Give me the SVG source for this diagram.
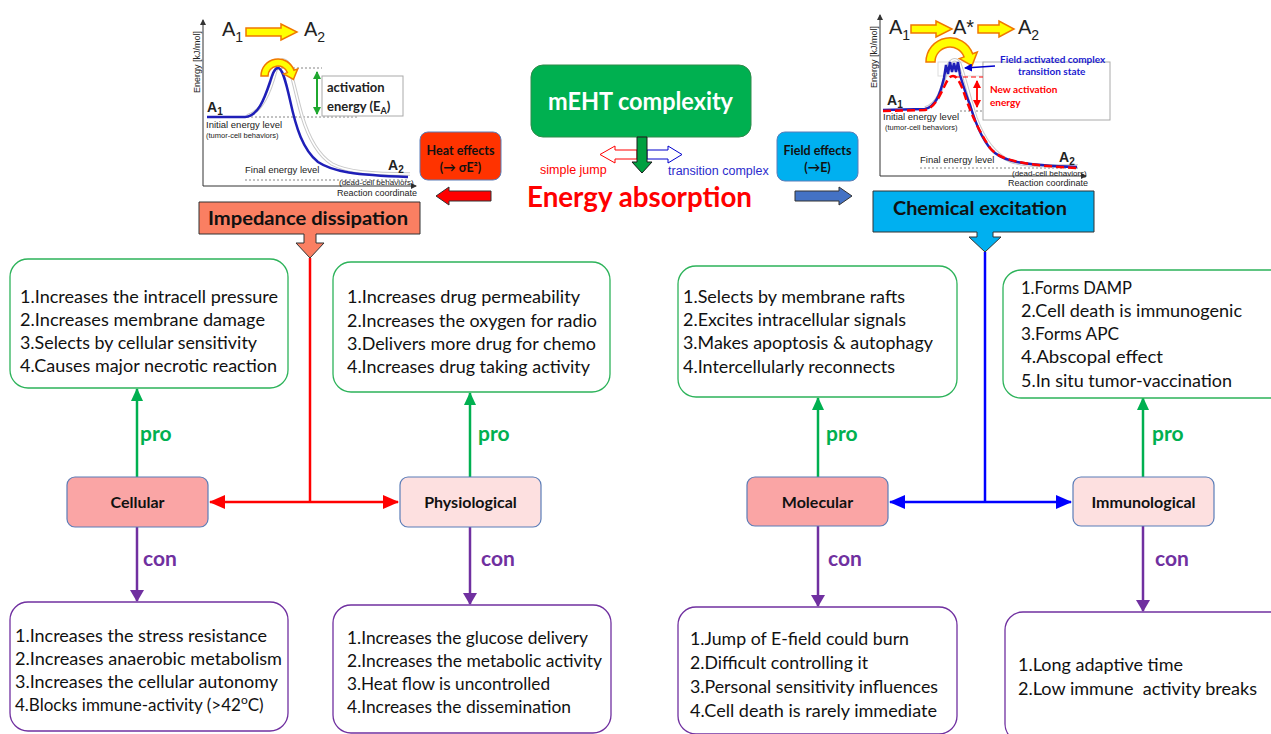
<svg xmlns="http://www.w3.org/2000/svg" width="1271" height="734" viewBox="0 0 1271 734">
<style>
.lst{font-family:Lato,"Liberation Sans",sans-serif;font-size:17px;fill:#111}
.lbl{font-family:Lato,"Liberation Sans",sans-serif;font-weight:bold}
.pro{font-family:Lato,"Liberation Sans",sans-serif;font-weight:bold;font-size:21px;fill:#00B050}
.con{font-family:Lato,"Liberation Sans",sans-serif;font-weight:bold;font-size:21px;fill:#7030A0}
.gbox{fill:#fff;stroke:#2DB35A;stroke-width:1.3}
.pbox{fill:#fff;stroke:#7030A0;stroke-width:1.3}
.nd{stroke:#5B7DB8;stroke-width:1.2}
.gt{font-family:"Liberation Sans",Arial,sans-serif;fill:#222}
.ax{stroke:#333;stroke-width:1;fill:none}
.dot{stroke:#666;stroke-width:0.8;stroke-dasharray:2,2;fill:none}
.yarr{fill:#FFFF00;stroke:#F07800;stroke-width:1.5}
.ghost{fill:none;stroke:#c9c9c9;stroke-width:3.5}
.ghost2{fill:none;stroke:#fff;stroke-width:1.5}
</style>
<defs>
<marker id="mg" markerWidth="13" markerHeight="12" refX="12" refY="6" orient="auto" markerUnits="userSpaceOnUse" viewBox="0 0 13 12"><path d="M0,0 L13,6 L0,12 Z" fill="#00B050"/></marker>
<marker id="mp" markerWidth="14" markerHeight="14" refX="11" refY="7" orient="auto" markerUnits="userSpaceOnUse" viewBox="0 0 14 14"><path d="M0,0 L12,7 L0,14 Z" fill="#7030A0"/></marker>
<marker id="mr" markerWidth="16" markerHeight="14" refX="15" refY="7" orient="auto-start-reverse" markerUnits="userSpaceOnUse" viewBox="0 0 16 14"><path d="M0,0 L16,7 L0,14 Z" fill="#FF0000"/></marker>
<marker id="mb" markerWidth="16" markerHeight="14" refX="15" refY="7" orient="auto-start-reverse" markerUnits="userSpaceOnUse" viewBox="0 0 16 14"><path d="M0,0 L16,7 L0,14 Z" fill="#0000FF"/></marker>
<marker id="sg" markerWidth="8" markerHeight="8" refX="7" refY="4" orient="auto-start-reverse" markerUnits="userSpaceOnUse" viewBox="0 0 8 8"><path d="M0,0 L8,4 L0,8 Z" fill="#1FA82F"/></marker>
<marker id="sr" markerWidth="8" markerHeight="8" refX="7" refY="4" orient="auto-start-reverse" markerUnits="userSpaceOnUse" viewBox="0 0 8 8"><path d="M0,0 L8,4 L0,8 Z" fill="#FF0000"/></marker>
<marker id="sb" markerWidth="8" markerHeight="8" refX="7" refY="4" orient="auto" markerUnits="userSpaceOnUse" viewBox="0 0 8 8"><path d="M0,0 L8,4 L0,8 Z" fill="#0000CC"/></marker>
<marker id="ax" markerWidth="6" markerHeight="6" refX="5" refY="3" orient="auto" markerUnits="userSpaceOnUse" viewBox="0 0 6 6"><path d="M0,0 L6,3 L0,6 Z" fill="#333"/></marker>
</defs>
<rect width="1271" height="734" fill="#fff"/>

<!-- Left energy graph -->
<g id="graph-left">
<line class="ax" x1="203" y1="186" x2="203" y2="20" marker-end="url(#ax)"/>
<line class="ax" x1="203" y1="186" x2="416" y2="186" marker-end="url(#ax)"/>
<text class="gt" font-size="9" transform="translate(200,93) rotate(-90)">Energy [kJ/mol]</text>
<text class="gt" font-size="9" x="337" y="196">Reaction coordinate</text>
<text class="gt" font-size="20" x="222" y="36">A<tspan font-size="14" dy="6">1</tspan></text>
<path class="yarr" d="M246,28 H281 V24 L297,32 L281,40 V36 H246 Z"/>
<text class="gt" font-size="20" x="304" y="36">A<tspan font-size="14" dy="6">2</tspan></text>
<line class="dot" x1="207" y1="117" x2="358" y2="117"/>
<line class="dot" x1="277" y1="68" x2="322" y2="68"/>
<line class="dot" x1="245" y1="180" x2="408" y2="180"/>
<path class="ghost" d="M247,116 C262,112 270,92 276,70 C279,60 283,58 287,62 C292,72 296,96 302,116 C308,136 318,155 332,164 C347,172 372,174 410,174"/>
<path class="ghost2" d="M247,116 C262,112 270,92 276,70 C279,60 283,58 287,62 C292,72 296,96 302,116 C308,136 318,155 332,164 C347,172 372,174 410,174"/>
<path d="M207,117 L245,117 C258,116 264,100 270,82 C273,72 275,68 278,68 C282,68 285,78 290,100 C296,128 303,150 318,162 C333,172 355,175 408,177" fill="none" stroke="#1F1FB8" stroke-width="2.5"/>
<path class="yarr" d="M261,76 A17,17 0 0 1 294,70.2 L297.7,68.9 L293.4,79.5 L283.7,73.9 L287.4,72.6 A10,10 0 0 0 268,76 Z"/>
<line x1="317" y1="72" x2="317" y2="114" stroke="#1FA82F" stroke-width="2" marker-start="url(#sg)" marker-end="url(#sg)"/>
<rect x="322" y="76" width="81" height="40" fill="#fff" stroke="#aaa" stroke-width="1"/>
<text class="lbl" font-size="13" x="327" y="92" fill="#222">activation</text>
<text class="lbl" font-size="13" x="327" y="111" fill="#222">energy (E<tspan font-size="9" dy="3">A</tspan><tspan dy="-3">)</tspan></text>
<text class="gt" font-size="14" font-weight="bold" x="207" y="112">A<tspan font-size="10" dy="3">1</tspan></text>
<text class="gt" font-size="9.5" x="206" y="128">Initial energy level</text>
<text class="gt" font-size="7.5" x="206" y="138">(tumor-cell behaviors)</text>
<text class="gt" font-size="9.5" x="245" y="173">Final energy level</text>
<text class="gt" font-size="14" font-weight="bold" x="388" y="170">A<tspan font-size="10" dy="3">2</tspan></text>
<text class="gt" font-size="8" x="339" y="185">(dead-cell behaviors)</text>
</g>

<!-- Right energy graph -->
<g id="graph-right">
<line class="ax" x1="880" y1="176" x2="880" y2="15" marker-end="url(#ax)"/>
<line class="ax" x1="880" y1="176" x2="1086" y2="176" marker-end="url(#ax)"/>
<text class="gt" font-size="9" transform="translate(877,88) rotate(-90)">Energy [kJ/mol]</text>
<text class="gt" font-size="9" x="1008" y="186">Reaction coordinate</text>
<text class="gt" font-size="20" x="889" y="34">A<tspan font-size="14" dy="6">1</tspan></text>
<path class="yarr" d="M911,25 H936 V21 L952,29 L936,37 V33 H911 Z"/>
<text class="gt" font-size="20" x="953" y="34">A*</text>
<path class="yarr" d="M978,25 H999 V21 L1014,29 L999,37 V33 H978 Z"/>
<text class="gt" font-size="20" x="1018" y="34">A<tspan font-size="14" dy="6">2</tspan></text>
<rect x="938" y="62" width="45" height="14" fill="none" stroke="#ddd" stroke-width="1"/>
<rect x="983" y="62" width="127" height="58" fill="#fff" stroke="#aaa" stroke-width="1"/>
<line class="dot" x1="960" y1="111" x2="983" y2="111"/>
<line class="dot" x1="920" y1="168" x2="1078" y2="168"/>
<path class="ghost" d="M925,108 C938,104 942,90 946,72 C949,60 955,56 960,64 C965,78 970,100 976,118 C984,140 996,155 1010,161 C1025,166 1045,166 1078,166"/>
<path class="ghost2" d="M925,108 C938,104 942,90 946,72 C949,60 955,56 960,64 C965,78 970,100 976,118 C984,140 996,155 1010,161 C1025,166 1045,166 1078,166"/>
<path d="M883,110 L925,109 C935,107 940,95 944,78 L946,65 L948,74 L950,62 L952,72 L954,63 L956,72 L958,62 L960,75 C963,85 966,95 970,105 C976,125 985,145 995,153 C1005,161 1020,165 1077,167" fill="none" stroke="#1F1FB8" stroke-width="2.5"/>
<path d="M883,111 L925,110 C935,108 940,95 946,83 C949,77 951,76 953,76 C956,76 959,80 963,90 C968,105 975,125 990,148 C1000,160 1020,165 1077,168" fill="none" stroke="#FF0000" stroke-width="2.5" stroke-dasharray="8,4"/>
<line x1="955" y1="77" x2="983" y2="77" stroke="#FF0000" stroke-width="1.2" stroke-dasharray="5,3"/>
<path class="yarr" d="M926,62 A24,24 0 0 1 972.6,53.8 L977.3,52.1 L972,65.6 L959.4,58.6 L964.1,56.9 A15,15 0 0 0 935,62 Z"/>
<line x1="977" y1="81" x2="977" y2="107" stroke="#FF0000" stroke-width="1.8" marker-start="url(#sr)" marker-end="url(#sr)"/>
<line x1="995" y1="66" x2="965" y2="68" stroke="#0000CC" stroke-width="1.3" marker-end="url(#sb)"/>
<text class="lbl" font-size="10" x="1000" y="63" fill="#1A1AD0">Field activated complex</text>
<text class="lbl" font-size="10" x="1018" y="75" fill="#1A1AD0">transition state</text>
<text class="lbl" font-size="10" x="990" y="93" fill="#FF0000">New activation</text>
<text class="lbl" font-size="10" x="990" y="106" fill="#FF0000">energy</text>
<text class="gt" font-size="14" font-weight="bold" x="887" y="105">A<tspan font-size="10" dy="3">1</tspan></text>
<text class="gt" font-size="9.5" x="883" y="120">Initial energy level</text>
<text class="gt" font-size="7.5" x="885" y="130">(tumor-cell behaviors)</text>
<text class="gt" font-size="9.5" x="920" y="163">Final energy level</text>
<text class="gt" font-size="14" font-weight="bold" x="1059" y="162">A<tspan font-size="10" dy="3">2</tspan></text>
<text class="gt" font-size="8" x="1012" y="176">(dead-cell behaviors)</text>
</g>

<!-- Center -->
<g id="mEHT">
<rect x="531" y="65" width="220" height="72" rx="12" fill="#00B050" stroke="#2E8B4A" stroke-width="1"/>
<text class="lbl" font-size="25" fill="#fff" x="548" y="110" textLength="185" lengthAdjust="spacingAndGlyphs">mEHT complexity</text>
</g>
<g id="center-arrows">
<path d="M615,150 H637 V159 H615 V163 L600,154.5 L615,146 Z" fill="#fff" stroke="#FF0000" stroke-width="1"/>
<path d="M647,150 H668 V146 L682,154.5 L668,163 V159 H647 Z" fill="#fff" stroke="#0000CC" stroke-width="1"/>
<path d="M637,137 H647 V162 H652 L642,173 L632,162 H637 Z" fill="#00A040" stroke="#1a1a1a" stroke-width="1"/>
<text x="540" y="174" font-family="'Liberation Sans',Arial,sans-serif" font-size="12.5" fill="#FF0000">simple jump</text>
<text x="668" y="175" font-family="'Liberation Sans',Arial,sans-serif" font-size="12.5" fill="#2B2BCC">transition complex</text>
</g>
<g id="energy-absorption">
<text class="lbl" font-size="29" fill="#FF0000" x="527" y="207" textLength="225" lengthAdjust="spacingAndGlyphs">Energy absorption</text>
</g>
<g id="heat-effects">
<rect x="420" y="132" width="81" height="48" rx="8" fill="#FF3300" stroke="#5B7DB8" stroke-width="1"/>
<text class="lbl" font-size="12.5" fill="#111" x="460.5" y="155" text-anchor="middle">Heat effects</text>
<text class="lbl" font-size="12.5" fill="#111" x="460.5" y="172" text-anchor="middle">(→ σE²)</text>
<path d="M491,191 H449 V187 L436,196 L449,205 V201 H491 Z" fill="#FF0000" stroke="#333" stroke-width="1"/>
</g>
<g id="field-effects">
<rect x="777" y="132" width="81" height="49" rx="8" fill="#00B0F0" stroke="#5B7DB8" stroke-width="1"/>
<text class="lbl" font-size="12.5" fill="#111" x="817.5" y="155" text-anchor="middle">Field effects</text>
<text class="lbl" font-size="12.5" fill="#111" x="817.5" y="172" text-anchor="middle">(→E)</text>
<path d="M795,191 H839 V187 L852,196 L839,205 V201 H795 Z" fill="#4472C4" stroke="#333" stroke-width="1"/>
</g>
<g id="impedance">
<path d="M199,202 H420 V234 H316 V243 H324 L310,258 L296,243 H304 V234 H199 Z" fill="#FA7F62" stroke="#333" stroke-width="1"/>
<text class="lbl" font-size="19" fill="#111" x="208" y="225" textLength="200" lengthAdjust="spacingAndGlyphs">Impedance dissipation</text>
</g>
<g id="chemical">
<path d="M873,191 H1094 V232 H993 V237 H1001 L985,252 L969,237 H977 V232 H873 Z" fill="#00B0F0" stroke="#333" stroke-width="1"/>
<text class="lbl" font-size="19" fill="#111" x="893" y="215" textLength="174" lengthAdjust="spacingAndGlyphs">Chemical excitation</text>
</g>

<!-- Connectors -->
<g id="connectors" fill="none">
<line x1="310" y1="258" x2="310" y2="502" stroke="#FF0000" stroke-width="2.5"/>
<line x1="210" y1="502" x2="398" y2="502" stroke="#FF0000" stroke-width="2.5" marker-start="url(#mr)" marker-end="url(#mr)"/>
<line x1="985" y1="252" x2="985" y2="502" stroke="#0000FF" stroke-width="2.5"/>
<line x1="890" y1="502" x2="1071" y2="502" stroke="#0000FF" stroke-width="2.5" marker-start="url(#mb)" marker-end="url(#mb)"/>
<line x1="137" y1="477" x2="137" y2="389" stroke="#00B050" stroke-width="2.5" marker-end="url(#mg)"/>
<line x1="470" y1="477" x2="470" y2="393" stroke="#00B050" stroke-width="2.5" marker-end="url(#mg)"/>
<line x1="818" y1="477" x2="818" y2="398" stroke="#00B050" stroke-width="2.5" marker-end="url(#mg)"/>
<line x1="1143" y1="477" x2="1143" y2="398" stroke="#00B050" stroke-width="2.5" marker-end="url(#mg)"/>
<line x1="137" y1="527" x2="137" y2="601" stroke="#7030A0" stroke-width="2.5" marker-end="url(#mp)"/>
<line x1="470" y1="527" x2="470" y2="604" stroke="#7030A0" stroke-width="2.5" marker-end="url(#mp)"/>
<line x1="818" y1="526" x2="818" y2="606" stroke="#7030A0" stroke-width="2.5" marker-end="url(#mp)"/>
<line x1="1143" y1="526" x2="1143" y2="611" stroke="#7030A0" stroke-width="2.5" marker-end="url(#mp)"/>
<text class="pro" x="140" y="441">pro</text>
<text class="pro" x="478" y="441">pro</text>
<text class="pro" x="826" y="441">pro</text>
<text class="pro" x="1152" y="441">pro</text>
<text class="con" x="143" y="566">con</text>
<text class="con" x="481" y="566">con</text>
<text class="con" x="828" y="566">con</text>
<text class="con" x="1155" y="566">con</text>
</g>

<!-- Nodes -->
<g id="cellular"><rect class="nd" x="67" y="477" width="141" height="50" rx="8" fill="#FAA5A5"/><text class="lbl" font-size="16" x="137.5" y="508" text-anchor="middle" fill="#111">Cellular</text></g>
<g id="physiological"><rect class="nd" x="400" y="477" width="141" height="50" rx="8" fill="#FDE0E0"/><text class="lbl" font-size="16" x="470.5" y="508" text-anchor="middle" fill="#111">Physiological</text></g>
<g id="molecular"><rect class="nd" x="747" y="477" width="141" height="49" rx="8" fill="#FAA5A5"/><text class="lbl" font-size="16" x="817.5" y="508" text-anchor="middle" fill="#111">Molecular</text></g>
<g id="immunological"><rect class="nd" x="1073" y="477" width="141" height="49" rx="8" fill="#FDE0E0"/><text class="lbl" font-size="16" x="1143.5" y="508" text-anchor="middle" fill="#111">Immunological</text></g>

<g id="cellular-pro">
<rect class="gbox" x="10" y="259" width="278" height="129" rx="18"/>
<text class="lst" x="20" y="303" textLength="258" lengthAdjust="spacingAndGlyphs">1.Increases the intracell pressure</text>
<text class="lst" x="20" y="326" textLength="245" lengthAdjust="spacingAndGlyphs">2.Increases membrane damage</text>
<text class="lst" x="20" y="349" textLength="237" lengthAdjust="spacingAndGlyphs">3.Selects by cellular sensitivity</text>
<text class="lst" x="20" y="372" textLength="257" lengthAdjust="spacingAndGlyphs">4.Causes major necrotic reaction</text>
</g>
<g id="physiological-pro">
<rect class="gbox" x="333" y="262" width="277" height="130" rx="18"/>
<text class="lst" x="347" y="303" textLength="233" lengthAdjust="spacingAndGlyphs">1.Increases drug permeability</text>
<text class="lst" x="347" y="327" textLength="250" lengthAdjust="spacingAndGlyphs">2.Increases the oxygen for radio</text>
<text class="lst" x="347" y="350" textLength="249" lengthAdjust="spacingAndGlyphs">3.Delivers more drug for chemo</text>
<text class="lst" x="347" y="373" textLength="243" lengthAdjust="spacingAndGlyphs">4.Increases drug taking activity</text>
</g>
<g id="molecular-pro">
<rect class="gbox" x="678" y="266" width="279" height="131" rx="18"/>
<text class="lst" x="683" y="303" textLength="222" lengthAdjust="spacingAndGlyphs">1.Selects by membrane rafts</text>
<text class="lst" x="683" y="326" textLength="223" lengthAdjust="spacingAndGlyphs">2.Excites intracellular signals</text>
<text class="lst" x="683" y="349" textLength="250" lengthAdjust="spacingAndGlyphs">3.Makes apoptosis &amp; autophagy</text>
<text class="lst" x="683" y="373" textLength="212" lengthAdjust="spacingAndGlyphs">4.Intercellularly reconnects</text>
</g>
<g id="immunological-pro">
<rect class="gbox" x="1003" y="270" width="285" height="128" rx="18"/>
<text class="lst" x="1021" y="294" textLength="111" lengthAdjust="spacingAndGlyphs">1.Forms DAMP</text>
<text class="lst" x="1021" y="317" textLength="221" lengthAdjust="spacingAndGlyphs">2.Cell death is immunogenic</text>
<text class="lst" x="1021" y="340" textLength="98" lengthAdjust="spacingAndGlyphs">3.Forms APC</text>
<text class="lst" x="1021" y="363" textLength="142" lengthAdjust="spacingAndGlyphs">4.Abscopal effect</text>
<text class="lst" x="1021" y="387" textLength="211" lengthAdjust="spacingAndGlyphs">5.In situ tumor-vaccination</text>
</g>
<g id="cellular-con">
<rect class="pbox" x="10" y="602" width="278" height="129" rx="18"/>
<text class="lst" x="15" y="642" textLength="252" lengthAdjust="spacingAndGlyphs">1.Increases the stress resistance</text>
<text class="lst" x="15" y="665" textLength="267" lengthAdjust="spacingAndGlyphs">2.Increases anaerobic metabolism</text>
<text class="lst" x="15" y="688" textLength="263" lengthAdjust="spacingAndGlyphs">3.Increases the cellular autonomy</text>
<text class="lst" x="15" y="711">4.Blocks immune-activity (&gt;42<tspan font-size="12" dy="-7">o</tspan><tspan dy="7">C)</tspan></text>
</g>
<g id="physiological-con">
<rect class="pbox" x="333" y="605" width="278" height="128" rx="18"/>
<text class="lst" x="347" y="644" textLength="241" lengthAdjust="spacingAndGlyphs">1.Increases the glucose delivery</text>
<text class="lst" x="347" y="667" textLength="255" lengthAdjust="spacingAndGlyphs">2.Increases the metabolic activity</text>
<text class="lst" x="347" y="690" textLength="203" lengthAdjust="spacingAndGlyphs">3.Heat flow is uncontrolled</text>
<text class="lst" x="347" y="713" textLength="224" lengthAdjust="spacingAndGlyphs">4.Increases the dissemination</text>
</g>
<g id="molecular-con">
<rect class="pbox" x="678" y="607" width="279" height="127" rx="18"/>
<text class="lst" x="690" y="645" textLength="219" lengthAdjust="spacingAndGlyphs">1.Jump of E-field could burn</text>
<text class="lst" x="690" y="669" textLength="178" lengthAdjust="spacingAndGlyphs">2.Difficult controlling it</text>
<text class="lst" x="690" y="693" textLength="248" lengthAdjust="spacingAndGlyphs">3.Personal sensitivity influences</text>
<text class="lst" x="690" y="717" textLength="247" lengthAdjust="spacingAndGlyphs">4.Cell death is rarely immediate</text>
</g>
<g id="immunological-con">
<rect class="pbox" x="1005" y="612" width="285" height="130" rx="18"/>
<text class="lst" x="1018" y="671" textLength="165" lengthAdjust="spacingAndGlyphs">1.Long adaptive time</text>
<text class="lst" x="1018" y="695" textLength="239" lengthAdjust="spacingAndGlyphs" xml:space="preserve">2.Low immune  activity breaks</text>
</g>
</svg>
